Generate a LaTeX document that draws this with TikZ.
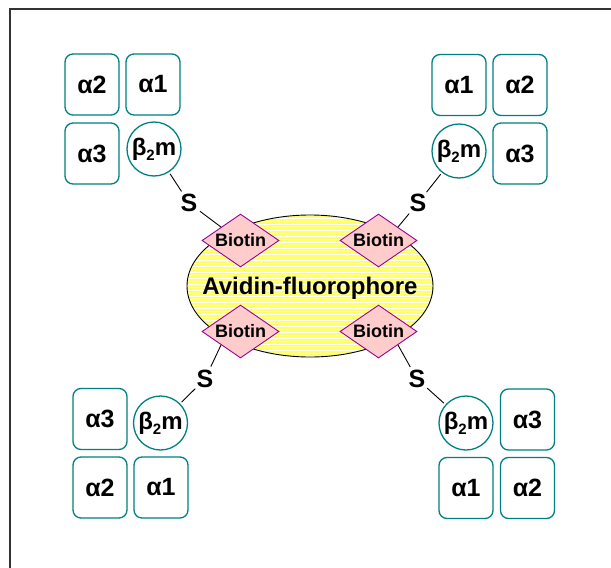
\documentclass[tikz,border=0pt]{standalone}
\usepackage{fontspec}
\setmainfont{Liberation Sans}
\usetikzlibrary{shapes.geometric}
\definecolor{tealc}{RGB}{0,128,128}
\definecolor{pinkf}{RGB}{255,204,204}
\definecolor{purp}{RGB}{153,0,153}
\definecolor{stripey}{RGB}{255,255,110}
\definecolor{framec}{RGB}{51,51,51}
\newcommand\btwom{\makebox[0pt][c]{β\raisebox{-0.4ex}{\fontsize{15}{15}\selectfont 2}m}}
\begin{document}
\begin{tikzpicture}[x=1pt,y=-1pt,
  abox/.style={draw=tealc, line width=1.3pt, rounded corners=8pt, minimum width=54pt, minimum height=61pt, inner sep=0pt, font=\fontsize{25}{28}\selectfont\bfseries},
  bcirc/.style={draw=tealc, line width=1.3pt, circle, minimum size=54pt, inner sep=0pt, font=\fontsize{24}{26}\selectfont\bfseries},
  biot/.style={diamond, draw=purp, fill=pinkf, line width=0.9pt, aspect=1.45, minimum width=77pt, minimum height=53pt, inner sep=0pt, font=\fontsize{18}{20}\selectfont\bfseries},
  slab/.style={circle, inner sep=1pt, font=\fontsize{25}{27}\selectfont\bfseries},
  link/.style={draw=black, line width=0.9pt},
  stripe/.style={draw=stripey, line width=2pt},
  avid/.style={ellipse, draw=black, line width=0.9pt, fill=white, minimum width=246pt, minimum height=142pt, inner sep=0pt},
  avtext/.style={font=\fontsize{24}{27}\selectfont\bfseries, inner sep=0pt},
  framel/.style={draw=framec, line width=1.6pt},
]
\useasboundingbox (0,0) rectangle (611,568);
% frame
\coordinate (f1) at (611,9);
\coordinate (f2) at (10,9);
\coordinate (f3) at (10,568);
\draw[framel] (f1) -- (f2) -- (f3);

% avidin ellipse with stripes
\node[avid, path picture={
  \foreach \k in {0,...,48}
    \draw[stripe] ([yshift=-\k*3pt-1.5pt]path picture bounding box.north west) -- ([yshift=-\k*3pt-1.5pt]path picture bounding box.north east);
}] (av) at (310,286) {};
\node[avtext] (avl) at (310,288) {Avidin-fluorophore};

% biotins
\node[biot] (bt1) at (240.5,240.5) {Biotin};
\node[biot] (bt2) at (378.5,240.5) {Biotin};
\node[biot] (bt3) at (240.5,331.5) {Biotin};
\node[biot] (bt4) at (378.5,331.5) {Biotin};

% top-left group
\node[abox] (tla2) at (92,84.5) {α2};
\node[abox] (tla1) at (153,84.5) {α1};
\node[abox] (tla3) at (92,153.5) {α3};
\node[bcirc] (tlb) at (154,149) {\btwom};

% top-right group
\node[abox] (tra1) at (459,85) {α1};
\node[abox] (tra2) at (520,85) {α2};
\node[abox] (tra3) at (520,153.5) {α3};
\node[bcirc] (trb) at (459,151) {\btwom};

% bottom-left group
\node[abox] (bla3) at (100,419) {α3};
\node[bcirc] (blb) at (160.5,423) {\btwom};
\node[abox] (bla2) at (100,487.5) {α2};
\node[abox] (bla1) at (161,487.5) {α1};

% bottom-right group
\node[bcirc] (brb) at (466,423) {\btwom};
\node[abox] (bra3) at (527.5,419.5) {α3};
\node[abox] (bra1) at (466,488) {α1};
\node[abox] (bra2) at (527.5,488) {α2};

% S linkers
\node[slab] (s1) at (189,203) {S};
\node[slab] (s2) at (418,203) {S};
\node[slab] (s3) at (205,379) {S};
\node[slab] (s4) at (417,379) {S};

\draw[link, shorten <=2pt] (tlb) -- (s1);
\draw[link] (s1) -- (bt1.north west);
\draw[link, shorten <=2pt] (trb) -- (s2);
\draw[link] (s2) -- (bt2.north east);
\draw[link, shorten <=2pt] (blb) -- (s3);
\draw[link] (s3) -- (bt3.south west);
\draw[link, shorten <=2pt] (brb) -- (s4);
\draw[link] (s4) -- (bt4.south east);
\end{tikzpicture}
\end{document}
